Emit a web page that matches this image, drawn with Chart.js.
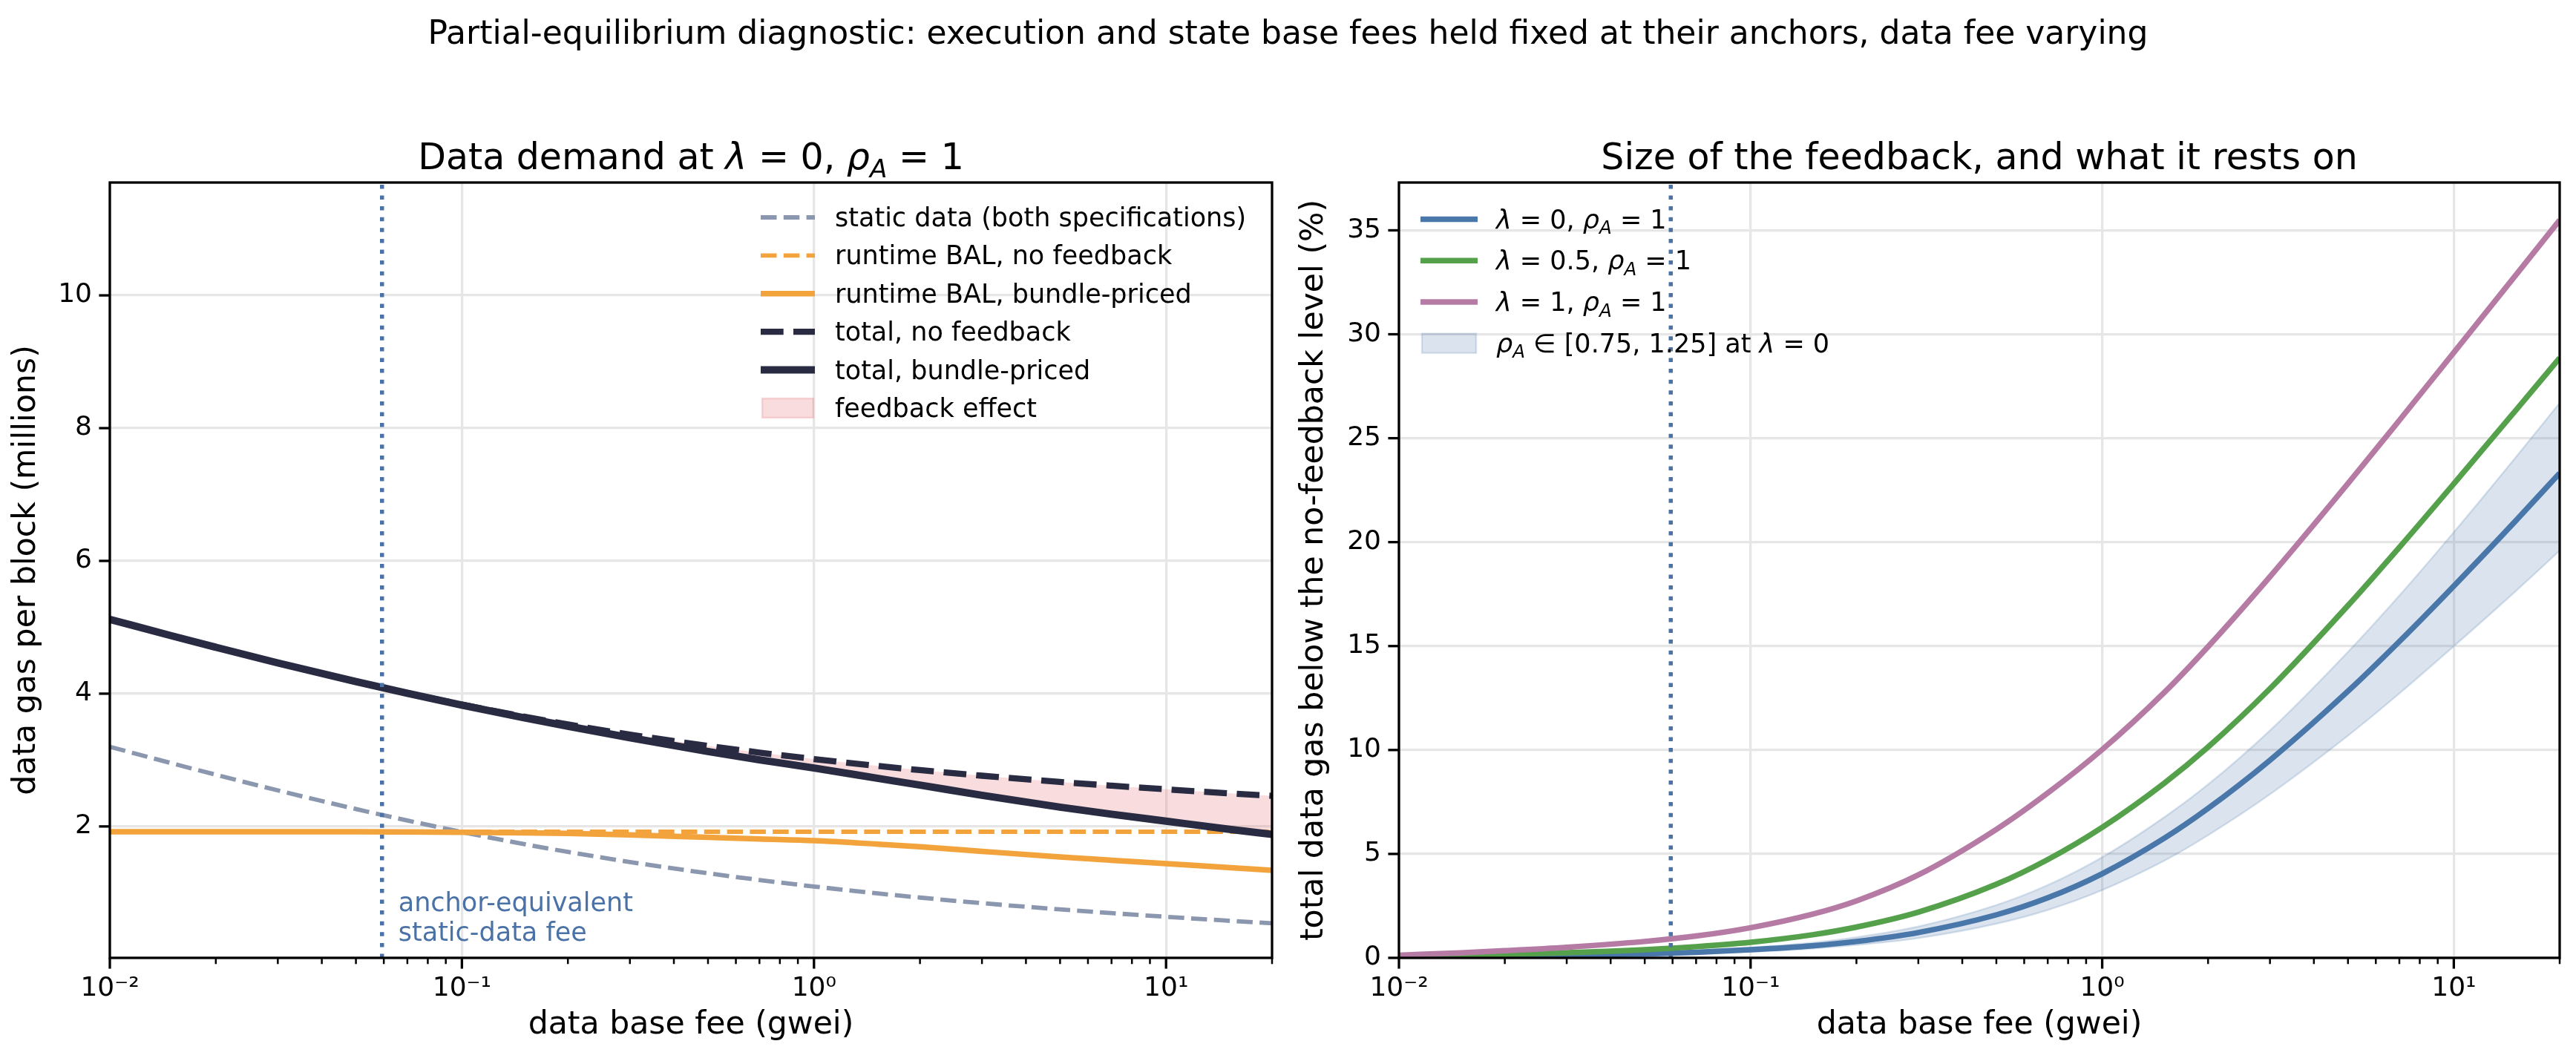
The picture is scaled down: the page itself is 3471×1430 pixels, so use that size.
<!DOCTYPE html>
<html>
<head>
<meta charset="utf-8">
<script src="https://cdn.jsdelivr.net/npm/chart.js@4.4.1/dist/chart.umd.min.js"></script>
<style>
  html, body { margin: 0; padding: 0; background: #fff; }
  #fig { position: relative; width: 3471px; height: 1430px; overflow: hidden; font-family: "DejaVu Sans", sans-serif; }
  #sup { position: absolute; left: 0; top: 22px; width: 3471px; text-align: center; font-size: 44px; line-height: 44px; color: #000; white-space: nowrap; }
  .panel { position: absolute; top: 0; height: 1430px; }
</style>
</head>
<body>
<div id="fig">
  <div class="panel" style="left:0;width:1735px"><canvas id="left" width="1735" height="1430"></canvas></div>
  <div class="panel" style="left:1735px;width:1736px"><canvas id="right" width="1736" height="1430"></canvas></div>
  <div id="sup">Partial-equilibrium diagnostic: execution and state base fees held fixed at their anchors, data fee varying</div>
</div>
<script>
// ---- data ----
const fees = [0.01, 0.015, 0.02, 0.03, 0.05, 0.07, 0.1, 0.15, 0.2, 0.3, 0.5, 0.7, 1, 1.5, 2, 3, 5, 7, 10, 15, 20];

// left panel: data gas per block (millions)
const staticData    = [3.20, 2.951, 2.779, 2.543, 2.262, 2.089, 1.916, 1.734, 1.616, 1.464, 1.294, 1.193, 1.095, 0.994, 0.928, 0.844, 0.75, 0.694, 0.639, 0.58, 0.54];
const runtimeNoFb   = [1.92, 1.92, 1.92, 1.92, 1.92, 1.92, 1.92, 1.92, 1.92, 1.92, 1.92, 1.92, 1.92, 1.92, 1.92, 1.92, 1.92, 1.92, 1.92, 1.92, 1.92];
const runtimeBundle = [1.92, 1.92, 1.92, 1.92, 1.92, 1.917, 1.912, 1.904, 1.894, 1.873, 1.835, 1.81, 1.785, 1.735, 1.695, 1.625, 1.54, 1.49, 1.44, 1.38, 1.34];
const totalNoFb     = [5.12, 4.871, 4.699, 4.463, 4.182, 4.009, 3.836, 3.654, 3.536, 3.384, 3.214, 3.113, 3.015, 2.914, 2.848, 2.764, 2.67, 2.614, 2.559, 2.50, 2.46];
const totalBundle   = [5.12, 4.871, 4.699, 4.463, 4.182, 4.006, 3.828, 3.638, 3.51, 3.337, 3.129, 3.003, 2.88, 2.729, 2.623, 2.469, 2.29, 2.184, 2.079, 1.96, 1.88];

// right panel: total data gas below the no-feedback level (%)
const lam0  = [0.06, 0.08, 0.10, 0.13, 0.19, 0.27, 0.39, 0.58, 0.79, 1.22, 2.07, 2.89, 4.05, 5.75, 7.19, 9.51, 12.83, 15.22, 17.89, 21.03, 23.32];
const lam05 = [0.067, 0.125, 0.17, 0.25, 0.395, 0.54, 0.75, 1.11, 1.48, 2.20, 3.54, 4.73, 6.28, 8.40, 10.14, 12.95, 16.95, 19.75, 22.81, 26.34, 28.86];
const lam1  = [0.127, 0.245, 0.345, 0.51, 0.79, 1.05, 1.45, 2.10, 2.74, 3.99, 6.18, 7.93, 10.02, 12.76, 14.97, 18.34, 22.82, 25.86, 29.12, 32.84, 35.49];
const rhoHi = [0.076, 0.10, 0.126, 0.164, 0.24, 0.34, 0.49, 0.73, 0.99, 1.51, 2.54, 3.50, 4.84, 6.76, 8.34, 10.94, 14.72, 17.43, 20.48, 24.08, 26.70];
const rhoLo = [0.047, 0.062, 0.078, 0.10, 0.15, 0.21, 0.30, 0.45, 0.62, 0.95, 1.64, 2.30, 3.26, 4.67, 5.90, 7.87, 10.69, 12.72, 14.99, 17.64, 19.59];

const anchorFee = 0.0593;

// axes
const xMin = 0.01, xMax = 20;
const xMajorTicks = [0.01, 0.1, 1, 10];
const xTickLabels = ['10⁻²', '10⁻¹', '10⁰', '10¹'];
const xMinorTicks = [0.02, 0.03, 0.04, 0.05, 0.06, 0.07, 0.08, 0.09, 0.2, 0.3, 0.4, 0.5, 0.6, 0.7, 0.8, 0.9, 2, 3, 4, 5, 6, 7, 8, 9, 20];
const yTicksLeft = [2, 4, 6, 8, 10];
const yTicksRight = [0, 5, 10, 15, 20, 25, 30, 35];
const yLeftMin = 0.02, yLeftMax = 11.7;
const yRightMin = 0, yRightMax = 37.3;

// ---- styling ----
const FONT = '"DejaVu Sans", sans-serif';
const GRID = '#e6e6e6';
const VLINE = '#4a72a6';
const S = {
  stat:   { color: '#8b97ae', width: 5.8, dash: [21.5, 9.3] },
  rtNo:   { color: '#f2a33c', width: 5.8, dash: [21.5, 9.3] },
  rtBun:  { color: '#f2a33c', width: 7.5, dash: [] },
  totNo:  { color: '#282b42', width: 8.3, dash: [30.7, 13.3] },
  totBun: { color: '#282b42', width: 10, dash: [] },
  lam0:   { color: '#4a77aa', width: 7.5, dash: [] },
  lam05:  { color: '#55a14b', width: 7.5, dash: [] },
  lam1:   { color: '#b57ba4', width: 7.5, dash: [] }
};
const PINK_FILL = 'rgba(230,120,125,0.25)';
const BAND_FILL = 'rgba(74,119,170,0.2)';

Chart.defaults.font.family = FONT;
Chart.defaults.color = '#000';

const pts = vals => fees.map((f, i) => ({ x: f, y: vals[i] }));

function lineDs(vals, st, extra) {
  return Object.assign({
    data: pts(vals), borderColor: st.color, borderWidth: st.width, borderDash: st.dash,
    pointRadius: 0, fill: false, cubicInterpolationMode: 'monotone'
  }, extra || {});
}

function vlineDs(yLo, yHi) {
  return {
    data: [{ x: anchorFee, y: yLo }, { x: anchorFee, y: yHi }],
    borderColor: VLINE, borderWidth: 5.5, borderDash: [5.5, 9.1], pointRadius: 0, fill: false
  };
}

// draws text with italic / subscript pieces (mathtext look)
function drawRich(ctx, segs, x, y, size, align) {
  const fontOf = k => (k === 'n' ? '' : 'italic ') + (k === 's' ? size * 0.7 : size) + 'px ' + FONT;
  let w = 0;
  segs.forEach(([t, k]) => { ctx.font = fontOf(k); w += ctx.measureText(t).width; });
  let cx = align === 'center' ? x - w / 2 : x;
  ctx.textAlign = 'left';
  ctx.textBaseline = 'alphabetic';
  segs.forEach(([t, k]) => {
    ctx.font = fontOf(k);
    ctx.fillText(t, cx, k === 's' ? y + size * 0.22 : y);
    cx += ctx.measureText(t).width;
  });
}

function decor(opts) {
  return {
    id: 'decor',
    afterDraw(chart) {
      const { ctx, chartArea: a, scales: { x, y } } = chart;
      ctx.save();
      ctx.strokeStyle = '#000';
      x.ticks.forEach(t => {
        const px = x.getPixelForValue(t.value);
        const major = xMajorTicks.includes(t.value);
        ctx.lineWidth = major ? 3.3 : 2.5;
        ctx.beginPath(); ctx.moveTo(px, a.bottom); ctx.lineTo(px, a.bottom + (major ? 14.6 : 8.3)); ctx.stroke();
      });
      ctx.lineWidth = 3.3;
      y.ticks.forEach(t => {
        const py = y.getPixelForValue(t.value);
        ctx.beginPath(); ctx.moveTo(a.left - 14.6, py); ctx.lineTo(a.left, py); ctx.stroke();
      });
      ctx.strokeRect(a.left, a.top, a.right - a.left, a.bottom - a.top);

      ctx.fillStyle = '#000';
      drawRich(ctx, opts.title, (a.left + a.right) / 2, a.top - 18, 49, 'center');

      const hx = opts.legendX(a);
      opts.legend.forEach((item, i) => {
        const ry = a.top + opts.legendTop + i * opts.legendStep;
        if (item.patch) {
          ctx.fillStyle = item.patch;
          ctx.fillRect(hx + 2, ry - 13, opts.handleLen - 4, 26);
          ctx.strokeStyle = item.patch; ctx.lineWidth = 2.5;
          ctx.strokeRect(hx + 2, ry - 13, opts.handleLen - 4, 26);
        } else {
          ctx.strokeStyle = item.st.color; ctx.lineWidth = item.st.width;
          ctx.setLineDash(item.st.dash);
          ctx.beginPath(); ctx.moveTo(hx, ry); ctx.lineTo(hx + opts.handleLen, ry); ctx.stroke();
          ctx.setLineDash([]);
        }
        ctx.fillStyle = '#000';
        drawRich(ctx, item.label, hx + opts.handleLen + opts.textGap, ry + 12, 35, 'left');
      });
      if (opts.after) opts.after(chart);
      ctx.restore();
    }
  };
}

function scalesCfg(yMin, yMax, yStep, yTitle, yWidth) {
  return {
    x: {
      type: 'logarithmic', min: xMin, max: xMax,
      afterBuildTicks: axis => {
        axis.ticks = xMajorTicks.concat(xMinorTicks).sort((p, q) => p - q).map(v => ({ value: v }));
      },
      afterFit: axis => { axis.height = 139; },
      border: { display: false },
      grid: { color: c => (c.tick && xMajorTicks.includes(c.tick.value)) ? GRID : 'rgba(0,0,0,0)', lineWidth: 3.3, drawTicks: false },
      ticks: {
        autoSkip: false, maxRotation: 0, minRotation: 0, padding: 20, color: '#000', font: { size: 36 },
        callback: v => { const k = xMajorTicks.indexOf(v); return k >= 0 ? xTickLabels[k] : ''; }
      },
      title: { display: true, text: 'data base fee (gwei)', color: '#000', font: { size: 42.6 }, padding: { top: 0, bottom: 23 } }
    },
    y: {
      type: 'linear', min: yMin, max: yMax,
      afterFit: axis => { axis.width = yWidth; },
      border: { display: false },
      grid: { color: GRID, lineWidth: 3.3, drawTicks: false },
      ticks: { stepSize: yStep, includeBounds: false, padding: 24, color: '#000', font: { size: 36 } },
      title: { display: true, text: yTitle, color: '#000', font: { size: 42.6 }, padding: { top: 10, bottom: 0 } }
    }
  };
}

function baseOptions(padRight, yMin, yMax, yStep, yTitle, yWidth) {
  return {
    responsive: false, animation: false, devicePixelRatio: 1,
    layout: { padding: { left: 0, right: padRight, top: 246, bottom: 0 } },
    plugins: { legend: { display: false }, tooltip: { enabled: false }, filler: { drawTime: 'beforeDatasetsDraw' } },
    scales: scalesCfg(yMin, yMax, yStep, yTitle, yWidth)
  };
}

// ---- left: data demand ----
new Chart(document.getElementById('left'), {
  type: 'line',
  data: {
    datasets: [
      vlineDs(yLeftMin, yLeftMax),
      lineDs(totalBundle, S.totBun, { fill: { target: 2 }, backgroundColor: PINK_FILL }),
      lineDs(totalNoFb, S.totNo),
      lineDs(runtimeBundle, S.rtBun),
      lineDs(runtimeNoFb, S.rtNo),
      lineDs(staticData, S.stat)
    ]
  },
  options: baseOptions(21, yLeftMin, yLeftMax, 2, 'data gas per block (millions)', 148),
  plugins: [decor({
    title: [['Data demand at ', 'n'], ['λ', 'i'], [' = 0, ', 'n'], ['ρ', 'i'], ['A', 's'], [' = 1', 'n']],
    legendX: a => a.right - 689, legendTop: 47, legendStep: 51.4, handleLen: 73, textGap: 27,
    legend: [
      { st: S.stat, label: [['static data (both specifications)', 'n']] },
      { st: S.rtNo, label: [['runtime BAL, no feedback', 'n']] },
      { st: S.rtBun, label: [['runtime BAL, bundle-priced', 'n']] },
      { st: S.totNo, label: [['total, no feedback', 'n']] },
      { st: S.totBun, label: [['total, bundle-priced', 'n']] },
      { patch: PINK_FILL, label: [['feedback effect', 'n']] }
    ],
    after: chart => {
      const { ctx, chartArea: a, scales: { x } } = chart;
      const tx = x.getPixelForValue(anchorFee) + 22;
      ctx.fillStyle = VLINE;
      ctx.font = '35px ' + FONT;
      ctx.textAlign = 'left';
      ctx.fillText('anchor-equivalent', tx, a.bottom - 63);
      ctx.fillText('static-data fee', tx, a.bottom - 23);
    }
  })]
});

// ---- right: size of the feedback ----
new Chart(document.getElementById('right'), {
  type: 'line',
  data: {
    datasets: [
      vlineDs(yRightMin, yRightMax),
      lineDs(lam1, S.lam1),
      lineDs(lam05, S.lam05),
      lineDs(lam0, S.lam0),
      { data: pts(rhoHi), borderColor: BAND_FILL, borderWidth: 2.5, pointRadius: 0, cubicInterpolationMode: 'monotone',
        fill: { target: 5 }, backgroundColor: BAND_FILL },
      { data: pts(rhoLo), borderColor: BAND_FILL, borderWidth: 2.5, pointRadius: 0, cubicInterpolationMode: 'monotone', fill: false }
    ]
  },
  options: baseOptions(22, yRightMin, yRightMax, 5, 'total data gas below the no-feedback level (%)', 150),
  plugins: [decor({
    title: [['Size of the feedback, and what it rests on', 'n']],
    legendX: a => a.left + 29, legendTop: 49.6, legendStep: 55.7, handleLen: 77, textGap: 25,
    legend: [
      { st: S.lam0, label: [['λ', 'i'], [' = 0, ', 'n'], ['ρ', 'i'], ['A', 's'], [' = 1', 'n']] },
      { st: S.lam05, label: [['λ', 'i'], [' = 0.5, ', 'n'], ['ρ', 'i'], ['A', 's'], [' = 1', 'n']] },
      { st: S.lam1, label: [['λ', 'i'], [' = 1, ', 'n'], ['ρ', 'i'], ['A', 's'], [' = 1', 'n']] },
      { patch: BAND_FILL, label: [['ρ', 'i'], ['A', 's'], [' ∈ [0.75, 1.25] at ', 'n'], ['λ', 'i'], [' = 0', 'n']] }
    ]
  })]
});
</script>
</body>
</html>
